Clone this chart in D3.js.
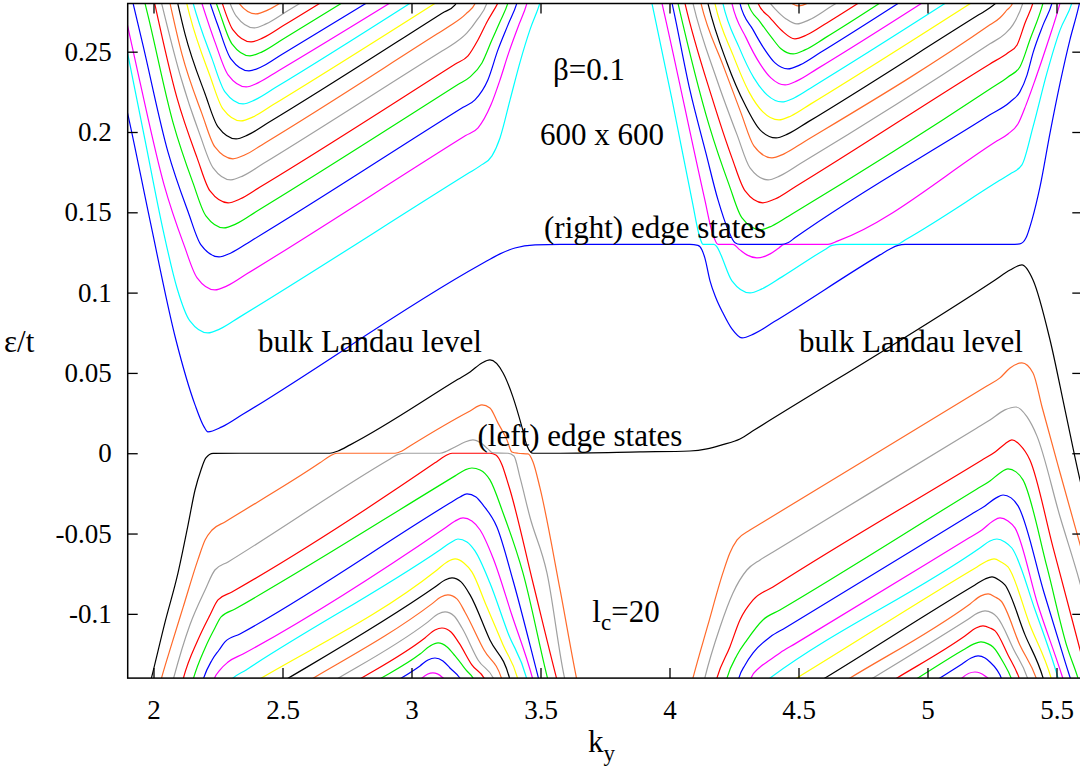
<!DOCTYPE html>
<html>
<head>
<meta charset="utf-8">
<script src="https://cdn.jsdelivr.net/npm/d3@7"></script>
<style>
  body { margin: 0; background: #fff; }
  text { font-family: "Liberation Serif", "Times New Roman", serif; fill: #000; }
</style>
</head>
<body>
<svg id="chart" width="1080" height="769"></svg>
<script>
// ---- axes ----
const xDomain = [1.9, 5.6];
const yDomain = [-0.14, 0.28];
const xTicks = [2, 2.5, 3, 3.5, 4, 4.5, 5, 5.5];
const yTicks = [-0.1, -0.05, 0, 0.05, 0.1, 0.15, 0.2, 0.25];

// ---- bands above zero energy (k_y, eps/t) ----
// band 0: lowest positive band, runs across the whole k_y window
const edgeUpper = [[1.870,0.2324],[1.901,0.2107],[1.986,0.1453],[2.087,0.0705],[2.161,0.0301],[2.196,0.0164],[2.211,0.0133],[2.265,0.0164],[2.343,0.0239],[3.266,0.1173],[3.343,0.1241],[3.401,0.1278],[3.479,0.1297],[3.576,0.130],[4.079,0.130],[4.110,0.1294],[4.126,0.1266],[4.137,0.1216],[4.157,0.1073],[4.180,0.0967],[4.207,0.0874],[4.242,0.0774],[4.281,0.0718],[4.327,0.0743],[4.405,0.0818],[4.816,0.1235],[4.855,0.1272],[4.886,0.1294],[4.913,0.130],[5.327,0.130],[5.358,0.1303],[5.382,0.1341],[5.405,0.1453],[5.436,0.1658],[5.475,0.1995],[5.514,0.2306],[5.552,0.2574],[5.583,0.2760],[5.599,0.2872]];

// bands 1..16, left valley
const bandsUpperLeft = [
  [[1.870,0.2729],[1.901,0.2480],[1.967,0.1951],[2.037,0.1391],[2.091,0.1029],[2.141,0.0824],[2.211,0.0749],[2.258,0.0774],[2.335,0.0849],[3.220,0.1743],[3.266,0.1789],[3.312,0.1851],[3.343,0.1963],[3.382,0.2200],[3.421,0.2437],[3.459,0.2636],[3.498,0.2804],[3.510,0.2872]],
  [[1.870,0.2872],[1.886,0.2760],[1.944,0.2337],[2.041,0.1671],[2.118,0.1297],[2.169,0.1092],[2.238,0.1017],[2.285,0.1042],[2.362,0.1117],[3.210,0.1978],[3.258,0.2026],[3.308,0.2169],[3.343,0.2324],[3.374,0.2480],[3.413,0.2654],[3.448,0.2804],[3.459,0.2872]],
  [[1.913,0.2854],[1.959,0.2542],[2.056,0.1876],[2.134,0.1503],[2.184,0.1297],[2.254,0.1222],[2.300,0.1247],[2.378,0.1322],[3.200,0.2154],[3.246,0.2200],[3.296,0.2324],[3.335,0.2511],[3.374,0.2667],[3.409,0.2804],[3.421,0.2872]],
  [[1.959,0.2854],[1.979,0.2723],[2.076,0.2057],[2.153,0.1683],[2.203,0.1478],[2.273,0.1403],[2.320,0.1428],[2.397,0.1503],[3.180,0.2295],[3.227,0.2343],[3.273,0.2430],[3.312,0.2574],[3.343,0.2686],[3.374,0.2804],[3.386,0.2872]],
  [[1.994,0.2879],[2.091,0.2212],[2.169,0.1839],[2.219,0.1633],[2.289,0.1559],[2.335,0.1583],[2.413,0.1658],[3.170,0.2424],[3.219,0.2474],[3.258,0.2574],[3.293,0.2686],[3.335,0.2804],[3.355,0.2872]],
  [[2.017,0.2897],[2.103,0.2356],[2.180,0.1982],[2.231,0.1777],[2.300,0.1702],[2.347,0.1727],[2.424,0.1802],[3.120,0.2506],[3.169,0.2555],[3.215,0.2617],[3.254,0.2698],[3.293,0.2804],[3.308,0.2885]],
  [[2.056,0.2860],[2.110,0.2486],[2.188,0.2113],[2.238,0.1907],[2.308,0.1833],[2.355,0.1858],[2.432,0.1932],[3.100,0.2611],[3.149,0.2661],[3.211,0.2735],[3.250,0.2810],[3.269,0.2897]],
  [[2.083,0.2879],[2.122,0.2611],[2.200,0.2237],[2.250,0.2032],[2.320,0.1957],[2.366,0.1982],[2.444,0.2057],[3.120,0.2741],[3.169,0.2791],[3.196,0.2885]],
  [[2.103,0.2978],[2.141,0.2723],[2.219,0.2349],[2.269,0.2144],[2.339,0.2069],[2.386,0.2094],[2.463,0.2169],[3.149,0.2860]],
  [[2.122,0.3009],[2.149,0.2829],[2.227,0.2455],[2.277,0.2250],[2.347,0.2175],[2.393,0.2200],[2.471,0.2275],[3.033,0.2841]],
  [[2.161,0.2935],[2.238,0.2561],[2.289,0.2356],[2.359,0.2281],[2.405,0.2306],[2.483,0.2380],[2.955,0.2841]],
  [[2.172,0.3034],[2.250,0.2661],[2.300,0.2455],[2.370,0.2380],[2.417,0.2405],[2.494,0.2480],[2.878,0.2854]],
  [[2.176,0.3128],[2.254,0.2754],[2.304,0.2549],[2.374,0.2474],[2.421,0.2499],[2.498,0.2574],[2.800,0.2872]],
  [[2.180,0.3215],[2.258,0.2841],[2.308,0.2636],[2.378,0.2561],[2.424,0.2586],[2.502,0.2661],[2.723,0.2879]],
  [[2.269,0.2928],[2.320,0.2723],[2.390,0.2648],[2.436,0.2673],[2.514,0.2748],[2.653,0.2885]],
  [[2.277,0.3016],[2.327,0.2810],[2.397,0.2735],[2.444,0.2760],[2.521,0.2835]]
];

// bands 1..16, right valley
const bandsUpperRight = [
  [[3.921,0.2885],[3.932,0.2801],[4.010,0.2200],[4.087,0.1577],[4.118,0.1341],[4.130,0.130],[4.172,0.130],[4.184,0.1285],[4.196,0.1247],[4.242,0.1073],[4.312,0.0998],[4.358,0.1023],[4.436,0.1098],[4.603,0.1269],[4.630,0.1294],[4.661,0.130],[4.882,0.130],[4.913,0.1328],[5.280,0.1699],[5.320,0.1739],[5.366,0.1795],[5.409,0.2032],[5.463,0.2368],[5.514,0.2636],[5.560,0.2804],[5.572,0.2872]],
  [[3.959,0.2885],[3.971,0.2801],[4.137,0.1577],[4.165,0.1378],[4.188,0.130],[4.246,0.130],[4.273,0.1266],[4.300,0.1235],[4.339,0.1216],[4.390,0.1241],[4.424,0.1278],[4.444,0.130],[4.614,0.130],[4.653,0.1322],[5.270,0.1945],[5.312,0.1988],[5.351,0.2051],[5.382,0.2169],[5.417,0.2324],[5.463,0.2542],[5.514,0.2804],[5.525,0.2872]],
  [[3.998,0.2885],[4.010,0.2801],[4.079,0.2262],[4.141,0.1870],[4.188,0.1577],[4.227,0.1391],[4.254,0.1310],[4.273,0.130],[4.432,0.130],[4.459,0.1310],[4.486,0.1341],[5.242,0.2107],[5.320,0.2187],[5.358,0.2250],[5.386,0.2356],[5.409,0.2493],[5.448,0.2667],[5.483,0.2804],[5.494,0.2872]],
  [[4.021,0.2885],[4.033,0.2801],[4.153,0.2044],[4.231,0.1671],[4.281,0.1465],[4.351,0.1391],[4.397,0.1415],[4.475,0.1490],[5.242,0.2268],[5.312,0.2343],[5.358,0.2405],[5.397,0.2574],[5.448,0.2804],[5.459,0.2872]],
  [[4.048,0.2885],[4.060,0.2801],[4.165,0.2212],[4.242,0.1839],[4.293,0.1633],[4.362,0.1559],[4.409,0.1583],[4.486,0.1658],[5.242,0.2424],[5.312,0.2493],[5.347,0.2542],[5.378,0.2679],[5.409,0.2804],[5.421,0.2872]],
  [[4.079,0.2885],[4.091,0.2801],[4.184,0.2324],[4.262,0.1982],[4.312,0.1777],[4.382,0.1702],[4.428,0.1727],[4.506,0.1802],[5.242,0.2549],[5.300,0.2611],[5.331,0.2667],[5.370,0.2804],[5.382,0.2872]],
  [[4.110,0.2885],[4.122,0.2801],[4.207,0.2418],[4.277,0.2119],[4.327,0.1914],[4.397,0.1839],[4.444,0.1864],[4.521,0.1938],[5.242,0.2667],[5.281,0.2711],[5.308,0.2760],[5.331,0.2804],[5.343,0.2872]],
  [[4.137,0.2885],[4.149,0.2801],[4.223,0.2430],[4.293,0.2169],[4.351,0.2013],[4.413,0.1963],[4.459,0.1988],[4.537,0.2063],[5.200,0.2731],[5.242,0.2773],[5.289,0.2835]],
  [[4.165,0.2885],[4.176,0.2801],[4.246,0.2480],[4.308,0.2250],[4.362,0.2125],[4.424,0.2075],[4.471,0.2100],[4.548,0.2175],[5.203,0.2838]],
  [[4.196,0.2885],[4.207,0.2801],[4.269,0.2530],[4.327,0.2337],[4.378,0.2231],[4.436,0.2187],[4.483,0.2212],[4.560,0.2287],[5.107,0.2841]],
  [[4.231,0.2885],[4.242,0.2801],[4.297,0.2586],[4.351,0.2424],[4.393,0.2337],[4.448,0.2293],[4.494,0.2318],[4.572,0.2393],[5.010,0.2835]],
  [[4.262,0.2885],[4.273,0.2801],[4.324,0.2636],[4.370,0.2511],[4.409,0.2430],[4.459,0.2393],[4.506,0.2418],[4.583,0.2493],[4.932,0.2848]],
  [[4.293,0.2885],[4.304,0.2801],[4.351,0.2686],[4.397,0.2586],[4.432,0.2518],[4.479,0.2486],[4.525,0.2511],[4.603,0.2586],[4.835,0.2823]],
  [[4.327,0.2885],[4.343,0.2801],[4.390,0.2711],[4.436,0.2630],[4.486,0.2580],[4.533,0.2605],[4.610,0.2679],[4.758,0.2829]],
  [[4.370,0.2841],[4.409,0.2767],[4.452,0.2704],[4.494,0.2673],[4.541,0.2698],[4.618,0.2773],[4.680,0.2835]],
  [[4.409,0.2872],[4.459,0.2816],[4.498,0.2785],[4.545,0.2810],[4.583,0.2854]]
];

// ---- bands below zero energy ----
// band 0: highest negative band, runs across the whole k_y window
const edgeLower = [[1.975,-0.1505],[1.990,-0.1412],[2.045,-0.1050],[2.095,-0.0745],[2.134,-0.0446],[2.161,-0.0229],[2.184,-0.0104],[2.203,-0.0029],[2.231,-0.0001],[2.335,0],[2.684,0],[2.715,0.0014],[2.762,0.0052],[3.180,0.0460],[3.227,0.0506],[3.273,0.0562],[3.304,0.0581],[3.355,0.0500],[3.393,0.0351],[3.428,0.0164],[3.448,0.0045],[3.471,0],[3.576,0],[3.886,0.0008],[4.079,0.0014],[4.145,0.0027],[4.203,0.0052],[4.273,0.0089],[4.330,0.0146],[5.262,0.1079],[5.320,0.1141],[5.366,0.1173],[5.409,0.1079],[5.475,0.0705],[5.533,0.0270],[5.591,-0.0166],[5.630,-0.0415]];

// bands 1..15, left hill
const bandsLowerLeft = [
  [[2.017,-0.1486],[2.029,-0.1412],[2.072,-0.1181],[2.114,-0.0963],[2.172,-0.0664],[2.200,-0.0540],[2.227,-0.0478],[2.277,-0.0428],[2.645,-0.0060],[2.684,-0.0017],[2.711,0],[2.936,0],[2.963,0.0014],[2.994,0.0045],[3.227,0.0263],[3.273,0.0301],[3.304,0.0282],[3.335,0.0189],[3.370,0.0083],[3.389,0.0008],[3.413,0],[3.452,-0.0004],[3.471,-0.0054],[3.498,-0.0216],[3.576,-0.0851],[3.641,-0.1412],[3.653,-0.1505]],
  [[2.064,-0.1486],[2.076,-0.1412],[2.141,-0.1069],[2.200,-0.0851],[2.238,-0.0727],[2.289,-0.0677],[2.917,-0.0036],[2.948,-0.0007],[2.975,0],[3.110,0],[3.138,0.0014],[3.169,0.0039],[3.207,0.0070],[3.238,0.0083],[3.269,0.0064],[3.296,0.0027],[3.316,0.0002],[3.374,0],[3.397,-0.0017],[3.421,-0.0154],[3.459,-0.0397],[3.525,-0.0745],[3.595,-0.1412],[3.607,-0.1486]],
  [[2.103,-0.1486],[2.114,-0.1412],[2.172,-0.1163],[2.219,-0.1007],[2.250,-0.0913],[2.304,-0.0864],[3.091,-0.0060],[3.130,-0.0017],[3.157,0],[3.304,0],[3.327,-0.0011],[3.351,-0.0073],[3.370,-0.0166],[3.382,-0.0229],[3.471,-0.0808],[3.564,-0.1412],[3.576,-0.1486]],
  [[2.141,-0.1486],[2.153,-0.1412],[2.200,-0.1212],[2.238,-0.1088],[2.262,-0.1019],[2.316,-0.0970],[3.169,-0.0141],[3.207,-0.0104],[3.234,-0.0092],[3.266,-0.0104],[3.304,-0.0166],[3.355,-0.0372],[3.432,-0.0745],[3.529,-0.1412],[3.541,-0.1486]],
  [[2.180,-0.1486],[2.192,-0.1412],[2.227,-0.1287],[2.254,-0.1225],[2.277,-0.1175],[2.335,-0.1125],[3.149,-0.0310],[3.188,-0.0272],[3.215,-0.0253],[3.250,-0.0272],[3.277,-0.0322],[3.331,-0.0459],[3.393,-0.0789],[3.494,-0.1412],[3.506,-0.1486]],
  [[2.223,-0.1486],[2.234,-0.1412],[2.258,-0.1349],[2.289,-0.1300],[2.347,-0.1250],[3.130,-0.0465],[3.169,-0.0422],[3.200,-0.0403],[3.234,-0.0422],[3.266,-0.0478],[3.316,-0.0652],[3.389,-0.1007],[3.471,-0.1412],[3.483,-0.1486]],
  [[2.265,-0.1486],[2.300,-0.1412],[2.359,-0.1349],[3.110,-0.0602],[3.149,-0.0559],[3.180,-0.0534],[3.215,-0.0552],[3.246,-0.0608],[3.304,-0.0808],[3.374,-0.1119],[3.448,-0.1412],[3.459,-0.1486]],
  [[2.366,-0.1449],[2.405,-0.1412],[3.099,-0.0727],[3.138,-0.0677],[3.169,-0.0658],[3.203,-0.0683],[3.234,-0.0739],[3.289,-0.0945],[3.355,-0.1194],[3.413,-0.1412],[3.424,-0.1486]],
  [[2.471,-0.1449],[2.510,-0.1412],[3.091,-0.0833],[3.130,-0.0789],[3.157,-0.0776],[3.192,-0.0801],[3.227,-0.0882],[3.304,-0.1163],[3.382,-0.1412],[3.393,-0.1486]],
  [[2.568,-0.1449],[2.607,-0.1412],[3.079,-0.0938],[3.114,-0.0895],[3.141,-0.0882],[3.176,-0.0907],[3.207,-0.0988],[3.281,-0.1225],[3.351,-0.1412],[3.362,-0.1486]],
  [[2.665,-0.1449],[2.704,-0.1412],[3.064,-0.1050],[3.103,-0.1001],[3.130,-0.0988],[3.165,-0.1013],[3.196,-0.1088],[3.258,-0.1287],[3.324,-0.1424],[3.335,-0.1486]],
  [[2.754,-0.1449],[2.793,-0.1412],[3.052,-0.1150],[3.091,-0.1100],[3.118,-0.1088],[3.153,-0.1113],[3.184,-0.1181],[3.234,-0.1318],[3.289,-0.1424],[3.300,-0.1486]],
  [[2.831,-0.1449],[2.870,-0.1412],[3.033,-0.1250],[3.072,-0.1200],[3.103,-0.1181],[3.138,-0.1206],[3.169,-0.1262],[3.211,-0.1349],[3.246,-0.1424],[3.258,-0.1486]],
  [[2.909,-0.1449],[2.948,-0.1412],[3.033,-0.1324],[3.064,-0.1287],[3.091,-0.1275],[3.122,-0.1293],[3.149,-0.1337],[3.200,-0.1437],[3.211,-0.1486]],
  [[3.002,-0.1474],[3.041,-0.1399],[3.083,-0.1368],[3.118,-0.1393],[3.141,-0.1437],[3.149,-0.1486]]
];

// bands 1..15, right hill
const bandsLowerRight = [
  [[4.079,-0.1474],[4.091,-0.1399],[4.149,-0.1069],[4.207,-0.0745],[4.234,-0.0621],[4.262,-0.0540],[4.312,-0.0478],[4.360,-0.0431],[5.230,0.0419],[5.281,0.0469],[5.320,0.0531],[5.366,0.0562],[5.409,0.0500],[5.444,0.0288],[5.514,-0.0123],[5.583,-0.0521],[5.630,-0.0789]],
  [[4.126,-0.1474],[4.137,-0.1399],[4.196,-0.1082],[4.246,-0.0870],[4.300,-0.0727],[4.351,-0.0664],[4.400,-0.0616],[5.190,0.0156],[5.242,0.0207],[5.300,0.0270],[5.343,0.0288],[5.386,0.0226],[5.424,0.0108],[5.514,-0.0397],[5.580,-0.0745],[5.630,-0.1038]],
  [[4.172,-0.1474],[4.184,-0.1399],[4.234,-0.1206],[4.273,-0.1038],[4.324,-0.0913],[4.401,-0.0833],[5.210,-0.0043],[5.262,0.0008],[5.300,0.0058],[5.327,0.0083],[5.358,0.0052],[5.397,-0.0042],[5.486,-0.0583],[5.564,-0.1057],[5.630,-0.1461]],
  [[4.211,-0.1474],[4.223,-0.1399],[4.262,-0.1256],[4.300,-0.1163],[4.362,-0.1038],[4.428,-0.0976],[5.190,-0.0224],[5.242,-0.0173],[5.281,-0.0123],[5.312,-0.0098],[5.343,-0.0116],[5.370,-0.0166],[5.463,-0.0708],[5.541,-0.1206],[5.583,-0.1399],[5.599,-0.1486]],
  [[4.258,-0.1474],[4.269,-0.1399],[4.293,-0.1318],[4.324,-0.1243],[4.390,-0.1144],[4.448,-0.1088],[5.170,-0.0380],[5.223,-0.0328],[5.266,-0.0278],[5.293,-0.0260],[5.324,-0.0278],[5.351,-0.0328],[5.452,-0.0870],[5.537,-0.1318],[5.560,-0.1437],[5.568,-0.1486]],
  [[4.304,-0.1474],[4.316,-0.1399],[4.347,-0.1337],[4.378,-0.1300],[4.428,-0.1243],[4.486,-0.1187],[5.160,-0.0528],[5.211,-0.0478],[5.254,-0.0422],[5.281,-0.0403],[5.312,-0.0422],[5.339,-0.0465],[5.428,-0.0945],[5.514,-0.1349],[5.533,-0.1443],[5.541,-0.1486]],
  [[4.358,-0.1437],[4.390,-0.1399],[5.203,-0.0590],[5.242,-0.0546],[5.269,-0.0534],[5.300,-0.0552],[5.327,-0.0590],[5.417,-0.0976],[5.506,-0.1399],[5.517,-0.1461]],
  [[4.455,-0.1437],[4.494,-0.1399],[5.192,-0.0708],[5.231,-0.0671],[5.258,-0.0658],[5.285,-0.0677],[5.312,-0.0708],[5.397,-0.1069],[5.479,-0.1399],[5.490,-0.1461]],
  [[4.564,-0.1437],[4.603,-0.1399],[5.184,-0.0820],[5.223,-0.0783],[5.250,-0.0770],[5.277,-0.0789],[5.300,-0.0820],[5.378,-0.1131],[5.448,-0.1399],[5.459,-0.1461]],
  [[4.661,-0.1437],[4.700,-0.1399],[5.165,-0.0938],[5.207,-0.0888],[5.235,-0.0876],[5.262,-0.0895],[5.285,-0.0920],[5.358,-0.1194],[5.424,-0.1412],[5.436,-0.1474]],
  [[4.750,-0.1437],[4.789,-0.1399],[5.153,-0.1038],[5.196,-0.0994],[5.223,-0.0982],[5.250,-0.0994],[5.269,-0.1019],[5.335,-0.1225],[5.390,-0.1412],[5.401,-0.1474]],
  [[4.843,-0.1437],[4.882,-0.1399],[5.145,-0.1138],[5.188,-0.1088],[5.215,-0.1075],[5.242,-0.1088],[5.262,-0.1106],[5.312,-0.1256],[5.358,-0.1412],[5.370,-0.1474]],
  [[4.924,-0.1437],[4.963,-0.1399],[5.138,-0.1225],[5.180,-0.1187],[5.207,-0.1175],[5.235,-0.1187],[5.254,-0.1206],[5.293,-0.1300],[5.327,-0.1412],[5.339,-0.1474]],
  [[5.010,-0.1437],[5.048,-0.1399],[5.134,-0.1312],[5.169,-0.1275],[5.196,-0.1262],[5.223,-0.1275],[5.242,-0.1300],[5.269,-0.1349],[5.289,-0.1418],[5.296,-0.1474]],
  [[5.107,-0.1461],[5.134,-0.1399],[5.184,-0.1362],[5.223,-0.1387],[5.242,-0.1418],[5.254,-0.1474]]
];

// line colours by band index
const upperColors = ["#0000ff","#00ffff","#ff00ff","#0000ff","#00ee00","#ff0000","#a0a0a0","#ff6a2a","#000000","#ffff00","#00ffff","#ff00ff","#0000ff","#00ee00","#ff0000","#a0a0a0","#ff6a2a"];
const lowerColors = ["#000000","#ff6a2a","#a0a0a0","#ff0000","#00ee00","#0000ff","#ff00ff","#00ffff","#ffff00","#000000","#ff6a2a","#a0a0a0","#ff0000","#00ee00","#0000ff","#ff00ff"];

// in-plot annotations, placed in data coordinates
const notes = [
  {text: "β=0.1", at: [3.688, 0.2324]},
  {text: "600 x 600", at: [3.738, 0.1920]},
  {text: "(right) edge states", at: [3.944, 0.1341]},
  {text: "bulk Landau level", at: [2.839, 0.0631]},
  {text: "bulk Landau level", at: [4.936, 0.0631]},
  {text: "(left) edge states", at: [3.653, 0.0045]}
];

// ---- layout ----
const margin = {left: 127.7, top: 3.5, right: 1082.3, bottom: 678.1};
const svg = d3.select("#chart");
const x = d3.scaleLinear().domain(xDomain).range([margin.left, margin.right]);
const y = d3.scaleLinear().domain(yDomain).range([margin.bottom, margin.top]);

svg.append("defs").append("clipPath").attr("id", "plot-clip")
  .append("rect")
  .attr("x", margin.left).attr("y", margin.top)
  .attr("width", margin.right - margin.left).attr("height", margin.bottom - margin.top);

const line = d3.line().x(d => x(d[0])).y(d => y(d[1])).curve(d3.curveMonotoneX);
const curves = svg.append("g").attr("clip-path", "url(#plot-clip)")
  .attr("fill", "none").attr("stroke-width", 1.2).attr("stroke-linejoin", "round");

function drawBands(list, colors, offset) {
  list.forEach((pts, i) => {
    curves.append("path").attr("d", line(pts)).attr("stroke", colors[i + offset]);
  });
}
drawBands(bandsLowerLeft, lowerColors, 1);
drawBands(bandsLowerRight, lowerColors, 1);
drawBands(bandsUpperLeft, upperColors, 1);
drawBands(bandsUpperRight, upperColors, 1);
curves.append("path").attr("d", line(edgeLower)).attr("stroke", lowerColors[0]);
curves.append("path").attr("d", line(edgeUpper)).attr("stroke", upperColors[0]);

// ---- annotations ----
const noteG = svg.append("g").attr("font-size", 31).attr("text-anchor", "middle");
notes.forEach(n => {
  noteG.append("text").attr("x", x(n.at[0])).attr("y", y(n.at[1])).text(n.text);
});
const lc = noteG.append("text").attr("text-anchor", "start")
  .attr("x", x(3.701)).attr("y", y(-0.1050));
lc.append("tspan").text("l");
lc.append("tspan").attr("dy", 8).attr("font-size", 23).text("c");
lc.append("tspan").attr("dy", -8).text("=20");

// ---- axes ----
const fmt = d => String(d);
const axisG = svg.append("g");
const gl = axisG.append("g").attr("transform", `translate(${margin.left},0)`)
  .call(d3.axisLeft(y).tickValues(yTicks).tickSize(-10).tickPadding(16).tickFormat(fmt));
const gb = axisG.append("g").attr("transform", `translate(0,${margin.bottom})`)
  .call(d3.axisBottom(x).tickValues(xTicks).tickSize(-10).tickPadding(22).tickFormat(fmt));
const gt = axisG.append("g").attr("transform", `translate(0,${margin.top})`)
  .call(d3.axisTop(x).tickValues(xTicks).tickSize(-10).tickFormat(""));
const gr = axisG.append("g").attr("transform", `translate(${margin.right},0)`)
  .call(d3.axisRight(y).tickValues(yTicks).tickSize(-10).tickFormat(""));
[gl, gb, gt, gr].forEach(g => {
  g.attr("font-size", 27).attr("font-family", "Liberation Serif, serif");
  g.select(".domain").remove();
  g.selectAll(".tick line").attr("stroke", "#000").attr("stroke-width", 1.3);
  g.selectAll("text").attr("font-size", 27).attr("fill", "#000");
});

svg.append("rect")
  .attr("x", margin.left).attr("y", margin.top)
  .attr("width", margin.right - margin.left).attr("height", margin.bottom - margin.top)
  .attr("fill", "none").attr("stroke", "#000").attr("stroke-width", 1.5);

// axis titles
const yt = svg.append("text").attr("font-size", 31).attr("x", 4).attr("y", 352);
yt.text("ε/t");
const xt = svg.append("text").attr("font-size", 31).attr("x", 588).attr("y", 752);
xt.append("tspan").text("k");
xt.append("tspan").attr("dy", 9).attr("font-size", 23).text("y");
</script>
</body>
</html>
